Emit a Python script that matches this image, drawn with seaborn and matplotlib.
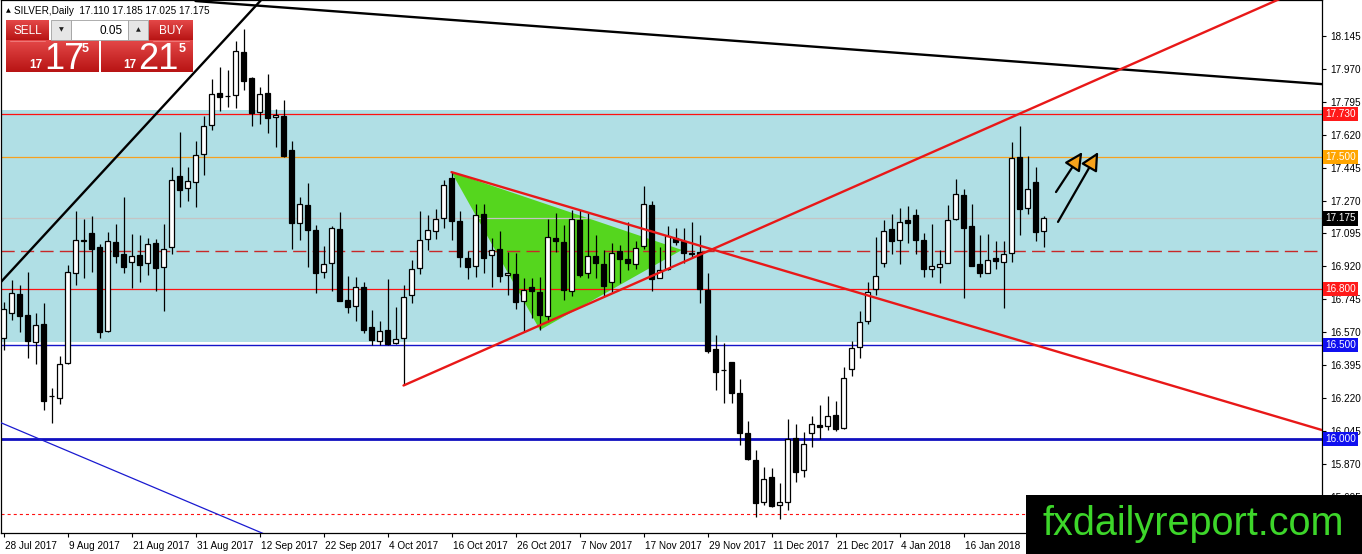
import numpy as np
import matplotlib
matplotlib.use("Agg")
import matplotlib.pyplot as plt
import matplotlib.transforms as mtransforms
from matplotlib.patches import Rectangle, Polygon
from matplotlib.colors import LinearSegmentedColormap
import seaborn as sns

# ---------------- data (daily SILVER candles, 28 Jul 2017 .. ) ----------------
opens = [16.537, 16.673, 16.773, 16.660, 16.518, 16.615, 16.232, 16.219, 16.406, 16.885,
         17.055, 17.096, 17.021, 16.578, 17.051, 16.986, 16.945, 16.978, 16.935, 17.042,
         16.917, 17.025, 17.399, 17.337, 17.369, 17.515, 17.674, 17.841, 17.826, 17.831,
         18.060, 17.924, 17.739, 17.841, 17.712, 17.721, 17.539, 17.148, 17.245, 17.112,
         16.892, 16.939, 17.121, 16.742, 16.710, 16.809, 16.597, 16.521, 16.579, 16.512,
         16.539, 16.768, 16.909, 17.063, 17.107, 17.179, 17.391, 17.162, 16.966, 16.924,
         17.197, 16.980, 17.010, 16.872, 16.878, 16.733, 16.809, 16.782, 16.657, 17.073,
         17.050, 16.790, 17.165, 16.883, 16.975, 16.932, 16.834, 16.999, 16.960, 16.931,
         17.029, 17.247, 16.857, 16.905, 17.070, 17.052, 16.990, 16.995, 16.795, 16.481,
         16.370, 16.410, 16.245, 16.032, 15.890, 15.668, 15.801, 15.650, 15.668, 16.005,
         15.837, 16.032, 16.077, 16.069, 16.131, 16.060, 16.373, 16.490, 16.629, 16.797,
         16.938, 17.117, 17.059, 17.165, 17.191, 17.059, 16.905, 16.914, 16.935, 17.173,
         17.301, 17.133, 16.931, 16.882, 16.965, 16.944, 16.993, 17.504, 17.232, 17.371,
         17.110]
highs = [16.730, 16.847, 16.823, 16.892, 16.673, 16.724, 16.271, 16.443, 16.926, 17.212,
         17.169, 17.190, 17.038, 17.100, 17.145, 17.287, 17.094, 17.085, 17.072, 17.066,
         17.145, 17.450, 17.636, 17.450, 17.586, 17.720, 17.915, 17.980, 17.965, 18.118,
         18.180, 17.928, 17.875, 17.945, 17.756, 17.806, 17.589, 17.289, 17.363, 17.139,
         17.027, 17.137, 17.208, 16.869, 16.862, 16.839, 16.689, 16.627, 16.851, 16.706,
         16.821, 16.953, 17.213, 17.195, 17.227, 17.377, 17.421, 17.213, 17.001, 17.253,
         17.250, 17.068, 17.109, 16.998, 16.989, 16.857, 16.860, 16.865, 17.169, 17.204,
         17.139, 17.221, 17.218, 17.204, 17.086, 17.006, 17.042, 17.034, 17.158, 17.057,
         17.345, 17.265, 17.022, 17.135, 17.123, 17.123, 17.158, 17.087, 16.883, 16.555,
         16.511, 16.412, 16.319, 16.099, 15.943, 15.854, 15.849, 15.769, 16.106, 16.080,
         16.041, 16.124, 16.184, 16.228, 16.205, 16.384, 16.523, 16.682, 16.838, 17.076,
         17.165, 17.200, 17.232, 17.240, 17.223, 17.099, 17.147, 17.006, 17.244, 17.382,
         17.332, 17.253, 17.085, 17.090, 17.053, 17.053, 17.580, 17.665, 17.509, 17.447,
         17.185]
lows = [16.477, 16.636, 16.571, 16.430, 16.402, 16.156, 16.084, 16.187, 16.400, 16.823,
        16.860, 16.888, 16.537, 16.571, 16.935, 16.885, 16.804, 16.836, 16.874, 16.786,
        16.683, 16.988, 17.235, 17.267, 17.235, 17.403, 17.646, 17.748, 17.769, 17.760,
        17.857, 17.668, 17.677, 17.628, 17.553, 17.504, 17.010, 17.059, 16.918, 16.780,
        16.860, 16.789, 16.733, 16.671, 16.627, 16.565, 16.503, 16.503, 16.503, 16.507,
        16.286, 16.724, 16.879, 17.006, 17.063, 17.126, 17.059, 16.918, 16.851, 16.862,
        16.883, 16.809, 16.834, 16.768, 16.693, 16.569, 16.645, 16.583, 16.622, 16.998,
        16.742, 16.760, 16.865, 16.856, 16.856, 16.760, 16.781, 16.830, 16.901, 16.906,
        17.011, 16.791, 16.857, 16.901, 17.034, 16.940, 16.963, 16.727, 16.461, 16.262,
        16.191, 16.195, 15.970, 15.890, 15.588, 15.650, 15.642, 15.574, 15.624, 15.775,
        15.798, 15.961, 16.000, 16.048, 16.043, 16.055, 16.339, 16.431, 16.612, 16.770,
        16.914, 16.983, 16.930, 17.044, 16.988, 16.864, 16.861, 16.829, 16.935, 17.165,
        16.749, 16.922, 16.861, 16.882, 16.903, 16.696, 16.944, 17.085, 17.200, 17.055,
        17.025]
closes = [16.692, 16.780, 16.655, 16.524, 16.608, 16.206, 16.228, 16.402, 16.892, 17.062,
          17.059, 17.012, 16.570, 17.057, 16.976, 16.917, 16.973, 16.926, 17.038, 16.911,
          17.010, 17.380, 17.328, 17.375, 17.511, 17.665, 17.836, 17.818, 17.824, 18.065,
          17.903, 17.734, 17.836, 17.709, 17.725, 17.509, 17.151, 17.250, 17.112, 16.886,
          16.930, 17.125, 16.733, 16.703, 16.812, 16.583, 16.526, 16.574, 16.509, 16.533,
          16.756, 16.905, 17.059, 17.112, 17.174, 17.350, 17.162, 16.968, 16.918, 17.191,
          16.962, 17.006, 16.869, 16.883, 16.728, 16.795, 16.790, 16.659, 17.077, 17.056,
          16.795, 17.169, 16.874, 16.976, 16.936, 16.816, 16.989, 16.958, 16.937, 17.020,
          17.252, 16.851, 16.901, 17.079, 17.047, 16.993, 16.984, 16.800, 16.470, 16.360,
          16.368, 16.248, 16.032, 15.893, 15.663, 15.787, 15.645, 15.665, 16.000, 15.828,
          15.973, 16.080, 16.065, 16.126, 16.055, 16.325, 16.484, 16.622, 16.785, 16.868,
          17.108, 17.053, 17.156, 17.150, 17.062, 16.908, 16.921, 16.931, 17.165, 17.306,
          17.126, 16.922, 16.885, 16.956, 16.949, 16.988, 17.497, 17.226, 17.332, 17.103,
          17.175]

date_labels = ["28 Jul 2017", "9 Aug 2017", "21 Aug 2017", "31 Aug 2017", "12 Sep 2017",
               "22 Sep 2017", "4 Oct 2017", "16 Oct 2017", "26 Oct 2017", "7 Nov 2017",
               "17 Nov 2017", "29 Nov 2017", "11 Dec 2017", "21 Dec 2017", "4 Jan 2018",
               "16 Jan 2018"]
date_label_bars = [0, 8, 16, 24, 32, 40, 48, 56, 64, 72, 80, 88, 96, 104, 112, 120]

price_ticks = [18.145, 17.970, 17.795, 17.620, 17.445, 17.270, 17.095, 16.920,
               16.745, 16.570, 16.395, 16.220, 16.045, 15.870, 15.695]
price_tick_labels = ["18.145", "17.970", "17.795", "17.620", "17.445", "17.270", "17.095",
                     "16.920", "16.745", "16.570", "16.395", "16.220", "16.045", "15.870",
                     "15.695"]

level_prices = [17.730, 17.500, 17.175, 16.800, 16.500, 16.000]
level_labels = ["17.730", "17.500", "17.175", "16.800", "16.500", "16.000"]
zone_low, zone_high = 16.52, 17.75
dashed_level = 17.00
dotted_level = 15.60

# trend lines (bar index, price)
black_up_x, black_up_y = [-0.44, 32.5], [16.831, 18.350]
black_dn_x, black_dn_y = [24.0, 164.81], [18.331, 17.889]
blue_dn_x, blue_dn_y = [-0.44, 33.0], [16.090, 15.489]
red_up_x, red_up_y = [50.0, 160.0], [16.286, 18.351]
red_dn_x, red_dn_y = [56.0, 164.81], [17.421, 16.049]
tri_x = [56.0, 67.06, 84.8]
tri_y = [17.421, 16.581, 17.007]
arrow_tail_x, arrow_tail_y = [131.56, 131.81], [17.315, 17.156]
arrow_head_x, arrow_head_y = [134.85, 136.84], [17.528, 17.528]

# ---------------- style ----------------
sns.set_style("white")
plt.rcParams['font.family'] = ['Liberation Sans', 'DejaVu Sans']
plt.rcParams['lines.scale_dashes'] = False

W, H = 1362, 554
fig = plt.figure(figsize=(W / 100, H / 100), dpi=100, facecolor='white')
ax = fig.add_axes([1 / W, 21 / H, 1321 / W, 533 / H])
ax.set_facecolor('white')

n = len(opens)
xb = np.arange(n)
o = np.array(opens); h = np.array(highs); l = np.array(lows); c = np.array(closes)

# zone
ax.axhspan(zone_low, zone_high, color='#b0dfe5', zorder=0.5, lw=0)

# green triangle
ax.add_patch(Polygon(list(zip(tri_x, tri_y)), closed=True, fc='#55d61e', ec='none', zorder=1))

# horizontal levels
ax.axhline(17.730, color='#ff1010', lw=0.9, zorder=1.5)
ax.axhline(17.500, color='#f5a020', lw=0.9, zorder=1.5)
ax.axhline(17.175, color='#c4c4c4', lw=0.9, zorder=1.5)
ax.axhline(16.800, color='#ff1010', lw=0.9, zorder=1.5)
ax.axhline(16.500, color='#1414c8', lw=1.0, zorder=1.5)
ax.axhline(16.000, color='#1010c0', lw=2.0, zorder=1.5)
ax.axhline(dashed_level, color='#c82828', lw=1.0, dashes=(9.5, 4.5), zorder=1.5)
ax.axhline(dotted_level, color='#ff1010', lw=0.8, dashes=(2.2, 2.2), zorder=1.5)

# candles
ax.vlines(xb, l, h, color='black', lw=0.9, zorder=3)
bull = c >= o
body_bottom = np.minimum(o, c)
body_h = np.maximum(np.abs(c - o), 0.003)
ax.bar(xb[bull], body_h[bull], bottom=body_bottom[bull], width=0.62, color='white',
       edgecolor='black', linewidth=0.9, zorder=4)
ax.bar(xb[~bull], body_h[~bull], bottom=body_bottom[~bull], width=0.62, color='black',
       edgecolor='black', linewidth=0.9, zorder=4)

# trend lines via seaborn
sns.lineplot(x=black_up_x, y=black_up_y, ax=ax, color='black', lw=1.7, zorder=5)
sns.lineplot(x=black_dn_x, y=black_dn_y, ax=ax, color='black', lw=1.7, zorder=5)
sns.lineplot(x=blue_dn_x, y=blue_dn_y, ax=ax, color='#1a1ad0', lw=0.9, zorder=5)
sns.lineplot(x=red_up_x, y=red_up_y, ax=ax, color='#e81818', lw=1.7, zorder=5)
sns.lineplot(x=red_dn_x, y=red_dn_y, ax=ax, color='#e81818', lw=1.7, zorder=5)

# arrows
for tx, ty, hx, hy in zip(arrow_tail_x, arrow_tail_y, arrow_head_x, arrow_head_y):
    ax.annotate("", xy=(hx, hy), xytext=(tx, ty),
                arrowprops=dict(arrowstyle='-|>,head_length=1.1,head_width=0.55',
                                fc='#f7a21b', ec='black', lw=1.6, shrinkA=0, shrinkB=0),
                zorder=6)

# limits
ax.set_xlim(-0.3125, 164.81)
ax.set_ylim(15.5014, 18.3365)
ax.set_xlabel("")
ax.set_ylabel("")

# axes, ticks
for s in ax.spines.values():
    s.set_color('black')
    s.set_linewidth(0.9)
ax.yaxis.tick_right()
ax.set_yticks(price_ticks)
ax.set_yticklabels(price_tick_labels)
ax.tick_params(axis='y', right=True, left=False, length=3, width=0.8, pad=3,
               labelsize=7.2, colors='black')
ax.set_xticks(date_label_bars)
ax.set_xticklabels(date_labels, ha='left')
ax.tick_params(axis='x', bottom=True, length=3, width=0.8, pad=3, labelsize=7.2,
               colors='black')
offset = mtransforms.ScaledTranslation(1 / 72, 0, fig.dpi_scale_trans)
for lab in ax.get_xticklabels():
    lab.set_transform(lab.get_transform() + offset)

# price label boxes on the right axis
lbl_bg = ['#ff1a1a', '#ffa500', '#000000', '#ff1a1a', '#1010f0', '#1010f0']
btrans = mtransforms.blended_transform_factory(ax.transAxes, ax.transData)
for p, t, bg in zip(level_prices, level_labels, lbl_bg):
    ax.text(1.0025, p, t, transform=btrans, ha='left', va='center', fontsize=7.2,
            color='white', clip_on=False, zorder=20,
            bbox=dict(boxstyle='square,pad=0.22', fc=bg, ec='none'))

# ---------------- overlay: trading panel + watermark ----------------
ov = fig.add_axes([0, 0, 1, 1], zorder=10)
ov.patch.set_alpha(0)
ov.axis('off')

red_cm = LinearSegmentedColormap.from_list('r', ['#e44848', '#b81414'])
grad = np.linspace(0, 1, 64).reshape(-1, 1)
for (x0, x1, y0, y1) in [(6, 49, 20, 40), (149, 193, 20, 40), (6, 99, 40, 72), (101, 193, 40, 72)]:
    ov.imshow(grad, extent=[x0, x1, y1, y0], cmap=red_cm, aspect='auto', zorder=1,
              interpolation='bilinear')
ov.plot([10, 45], [40.5, 40.5], color='#f08080', lw=0.6, zorder=2)
ov.plot([153, 189], [40.5, 40.5], color='#f08080', lw=0.6, zorder=2)
# small gray buttons and field
ov.add_patch(Rectangle((51, 20), 20, 20, fc='#e6e6e6', ec='#a0a0a0', lw=0.6, zorder=2))
ov.add_patch(Rectangle((71, 20), 57, 20, fc='white', ec='#a0a0a0', lw=0.6, zorder=2))
ov.add_patch(Rectangle((128, 20), 20, 20, fc='#e6e6e6', ec='#a0a0a0', lw=0.6, zorder=2))
ov.text(61, 30, "▼", fontsize=4.5, ha='center', va='center', color='#202020',
        family='DejaVu Sans', zorder=3)
ov.text(138, 30, "▲", fontsize=4.5, ha='center', va='center', color='#202020',
        family='DejaVu Sans', zorder=3)
ov.text(123, 30.5, "0.05", fontsize=8.5, ha='right', va='center', color='black', zorder=3)
ov.text(27.5, 30.5, "SELL", fontsize=8.5, ha='center', va='center', color='white', zorder=3)
ov.text(171, 30.5, "BUY", fontsize=8.5, ha='center', va='center', color='white', zorder=3)
# big prices
ov.text(36, 68, "17", fontsize=8.5, ha='center', va='baseline', color='white',
        weight='bold', zorder=3)
ov.text(64, 69, "17", fontsize=26, ha='center', va='baseline', color='white', zorder=3)
ov.text(85.5, 52, "5", fontsize=9, ha='center', va='baseline', color='white',
        weight='bold', zorder=3)
ov.text(129.5, 68, "17", fontsize=8.5, ha='center', va='baseline', color='white',
        weight='bold', zorder=3)
ov.text(158, 69, "21", fontsize=26, ha='center', va='baseline', color='white', zorder=3)
ov.text(182, 52, "5", fontsize=9, ha='center', va='baseline', color='white',
        weight='bold', zorder=3)
# header
ov.text(8, 10.5, "▲", fontsize=4.5, ha='center', va='center', color='black',
        family='DejaVu Sans', zorder=3)
ov.text(14, 10.5, "SILVER,Daily  17.110 17.185 17.025 17.175", fontsize=7.2,
        ha='left', va='center', color='black', zorder=3)

# watermark
ov.add_patch(Rectangle((1026, 495), 336, 59, fc='black', ec='none', zorder=4))
ov.text(1193.5, 535, "fxdailyreport.com", fontsize=28.5, ha='center', va='baseline',
        color='#3dd62a', zorder=5)

ov.set_xlim(0, W)
ov.set_ylim(H, 0)

fig.savefig("out.png", dpi=100, facecolor='white')
